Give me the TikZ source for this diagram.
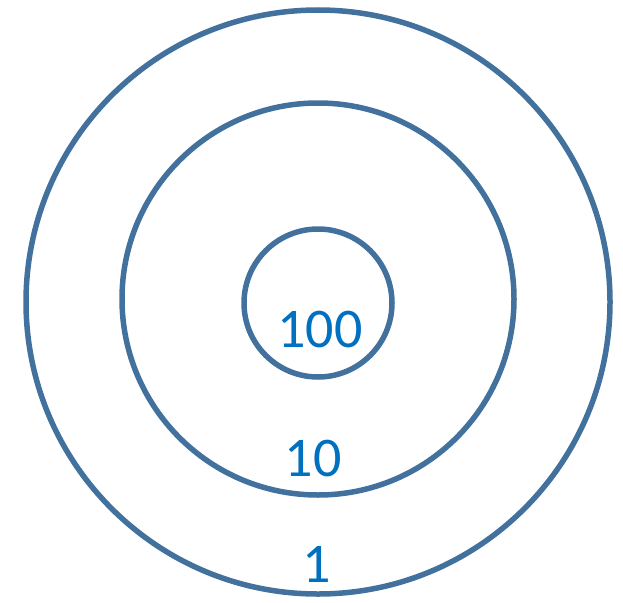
\documentclass[tikz,border=0pt]{standalone}
\usepackage{fontspec}
\setmainfont{Carlito}
\definecolor{ringcol}{HTML}{41719C}
\definecolor{numcol}{HTML}{0070C0}
\begin{document}
\begin{tikzpicture}[x=1pt,y=-1pt,
  ring/.style={draw=ringcol,line width=5.5pt,circle,inner sep=0pt},
  num/.style={text=numcol,font=\fontsize{56}{60}\selectfont,inner sep=0pt}]
\useasboundingbox (0,0) rectangle (623,602);
\node[ring,minimum size=584pt] (outer) at (318,302) {};
\node[ring,minimum size=392pt] (middle) at (318,299) {};
\node[ring,minimum size=148pt] (inner) at (318,303) {};
\node[num] (t100) at (320,330) {100};
\node[num] (t10) at (313,459) {10};
\node[num] (t1) at (317,564) {1};
\end{tikzpicture}
\end{document}
